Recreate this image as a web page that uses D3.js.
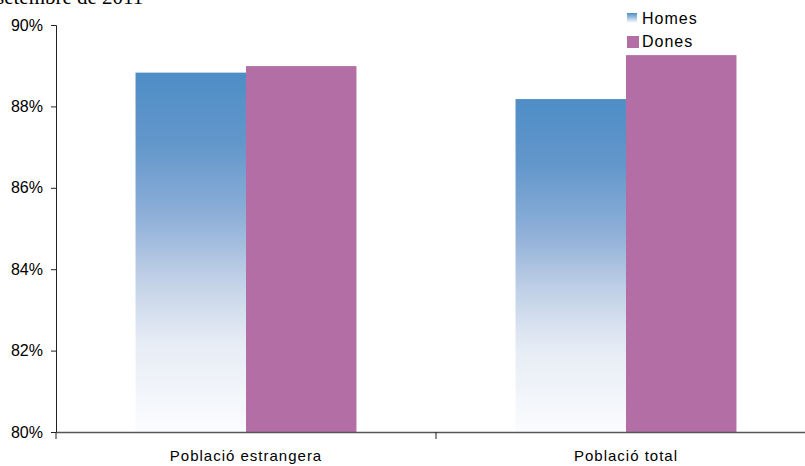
<!DOCTYPE html>
<html><head><meta charset="utf-8">
<script src="https://cdn.jsdelivr.net/npm/d3@7"></script>
<style>body{margin:0;background:#fff}svg{display:block}</style>
</head><body>
<svg id="c" width="805" height="466"></svg>
<script>
const categories = ["Població estrangera", "Població total"];
const seriesNames = ["Homes", "Dones"];
const homes = [88.83, 88.18];
const dones = [88.99, 89.26];
const yTicks = [80, 82, 84, 86, 88, 90];
const title = "setembre de 2011";

(function(){
const svg = d3.select("#c");
const mL = 56, mR = 816, mT = 25, mB = 432;
const defs = svg.append("defs");
const g = defs.append("linearGradient").attr("id","gh").attr("x1",0).attr("y1",0).attr("x2",0).attr("y2",1);
[[0,"#4E8DC6"],[0.2,"#6397CB"],[0.4,"#8EAFD8"],[0.58,"#C2D1E7"],[0.75,"#E6ECF5"],[1,"#FBFCFE"]]
  .forEach(([o,c])=>g.append("stop").attr("offset",o).attr("stop-color",c));
const gl = defs.append("linearGradient").attr("id","ghl").attr("x1",0).attr("y1",0).attr("x2",0).attr("y2",1);
gl.append("stop").attr("offset","0%").attr("stop-color","#4E8DC6");
gl.append("stop").attr("offset","100%").attr("stop-color","#ffffff");

const y = d3.scaleLinear().domain([80, 90]).range([mB, mT]);
const x = d3.scaleBand().domain(categories).range([mL, mR]).paddingInner(0).paddingOuter(0);
const xs = d3.scaleBand().domain(seriesNames).range([0, x.bandwidth()]).paddingInner(0).paddingOuter(0.72);

const data = categories.map((c,i)=>({c, vals:[{s:"Homes", v:homes[i]},{s:"Dones", v:dones[i]}]}));
const grp = svg.append("g").selectAll("g").data(data).join("g")
  .attr("transform", d=>`translate(${x(d.c)},0)`);
grp.selectAll("rect").data(d=>d.vals).join("rect")
  .attr("x", d=>xs(d.s)).attr("width", xs.bandwidth())
  .attr("y", d=>y(d.v)).attr("height", d=>mB - y(d.v))
  .attr("fill", d=>d.s==="Homes" ? "url(#gh)" : "#B36FA5");

const ya = svg.append("g").attr("transform",`translate(${mL},0)`)
  .call(d3.axisLeft(y).tickValues(yTicks).tickFormat(d=>d+"%").tickSize(5).tickSizeOuter(5));
ya.select(".domain").attr("stroke","#222");
ya.selectAll(".tick line").attr("stroke","#222");
ya.selectAll("text").attr("font-family","'Liberation Sans', Arial, sans-serif").attr("font-size","16px").attr("fill","#000").attr("x",-13);

const xa = svg.append("g").attr("transform",`translate(0,${mB})`)
  .call(d3.axisBottom(x).tickSize(0).tickSizeOuter(0));
xa.select(".domain").attr("stroke","#555").attr("stroke-width",1.5);
xa.selectAll(".tick text").attr("font-family","'Liberation Sans', Arial, sans-serif").attr("font-size","15px").attr("fill","#000").attr("dy","1.75em").attr("letter-spacing","1px");
const seps = [x.range()[0], x(categories[1])];
svg.append("g").selectAll("line").data(seps).join("line")
  .attr("x1",d=>d).attr("x2",d=>d).attr("y1",mB).attr("y2",mB+7).attr("stroke","#222");

const lg = svg.append("g");
const ly = [18, 41];
seriesNames.forEach((s,i)=>{
  lg.append("rect").attr("x",627).attr("y",ly[i]-5).attr("width",i===0?10:12).attr("height",i===0?10:12)
    .attr("fill", i===0 ? "url(#ghl)" : "#B36FA5");
  lg.append("text").attr("x",642).attr("y",ly[i]+6).text(s)
    .attr("font-family","'Liberation Sans', Arial, sans-serif").attr("font-size","16px").attr("fill","#000").attr("letter-spacing","1px");
});

svg.append("text").attr("x",-4).attr("y",4).text(title)
  .attr("font-family","'Liberation Serif', 'Times New Roman', serif").attr("font-size","21px").attr("fill","#000");
})();
</script>
</body></html>
